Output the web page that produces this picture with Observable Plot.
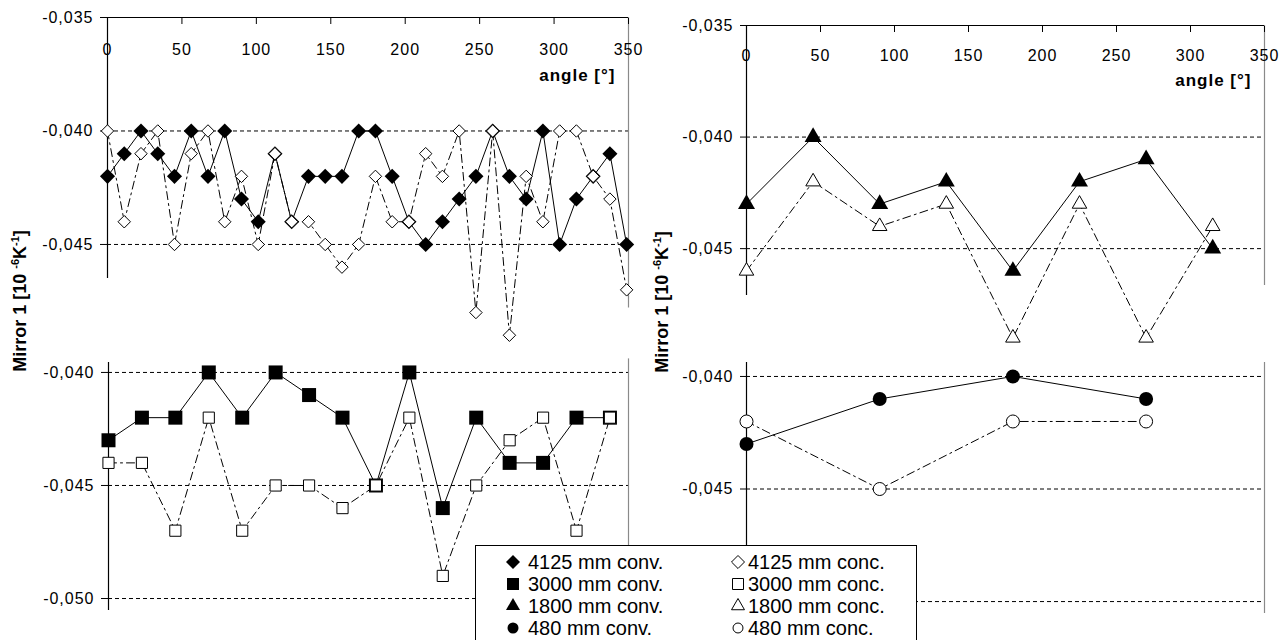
<!DOCTYPE html>
<html><head><meta charset="utf-8">
<script src="https://cdn.jsdelivr.net/npm/d3@7"></script>
<script src="https://cdn.jsdelivr.net/npm/@observablehq/plot@0.6"></script>
<style>
html,body{margin:0;padding:0;background:#fff;}
#root{position:relative;width:1288px;height:640px;overflow:hidden;font-family:"Liberation Sans",Arial,sans-serif;}
.sub{position:absolute;}
.ylab{position:absolute;font-weight:bold;font-size:18px;white-space:nowrap;transform:translate(-50%,-50%) rotate(-90deg);z-index:5;color:#000;}
.ylab sup{font-size:11px;}
#legend{position:absolute;left:475px;top:545px;width:440px;height:110px;border:1px solid #000;background:#fff;z-index:10;}
.li{position:absolute;font-size:20px;line-height:22px;height:22px;white-space:nowrap;color:#000;}
.li svg{position:absolute;top:0;}
</style>
</head><body><div id="root"></div>
<script>
// ---------- data ----------
const angles32 = [0, 11.25, 22.5, 33.75, 45, 56.25, 67.5, 78.75, 90, 101.25, 112.5, 123.75, 135, 146.25, 157.5, 168.75,
                  180, 191.25, 202.5, 213.75, 225, 236.25, 247.5, 258.75, 270, 281.25, 292.5, 303.75, 315, 326.25, 337.5, 348.75];
const angles16 = [0, 22.5, 45, 67.5, 90, 112.5, 135, 157.5, 180, 202.5, 225, 247.5, 270, 292.5, 315, 337.5];
const angles8 = [0, 45, 90, 135, 180, 225, 270, 315];
const angles4 = [0, 90, 180, 270];

const conv4125 = [-0.042,-0.041,-0.040,-0.041,-0.042,-0.040,-0.042,-0.040,-0.043,-0.044,-0.041,-0.044,-0.042,-0.042,-0.042,-0.040,
                  -0.040,-0.042,-0.044,-0.045,-0.044,-0.043,-0.042,-0.040,-0.042,-0.043,-0.040,-0.045,-0.043,-0.042,-0.041,-0.045];
const conc4125 = [-0.040,-0.044,-0.041,-0.040,-0.045,-0.041,-0.040,-0.044,-0.042,-0.045,-0.041,-0.044,-0.044,-0.045,-0.046,-0.045,
                  -0.042,-0.044,-0.044,-0.041,-0.042,-0.040,-0.048,-0.040,-0.049,-0.042,-0.044,-0.040,-0.040,-0.042,-0.043,-0.047];
const conv3000 = [-0.043,-0.042,-0.042,-0.040,-0.042,-0.040,-0.041,-0.042,-0.045,-0.040,-0.046,-0.042,-0.044,-0.044,-0.042,-0.042];
const conc3000 = [-0.044,-0.044,-0.047,-0.042,-0.047,-0.045,-0.045,-0.046,-0.045,-0.042,-0.049,-0.045,-0.043,-0.042,-0.047,-0.042];
const conv1800 = [-0.043,-0.040,-0.043,-0.042,-0.046,-0.042,-0.041,-0.045];
const conc1800 = [-0.046,-0.042,-0.044,-0.043,-0.049,-0.043,-0.049,-0.044];
const conv480 = [-0.043,-0.041,-0.040,-0.041];
const conc480 = [-0.042,-0.045,-0.042,-0.042];

const xTicks = [0, 50, 100, 150, 200, 250, 300, 350];
const yTicksTop = [-0.035, -0.040, -0.045];
const yTicksBottom = [-0.040, -0.045, -0.050];
const gridTop = [-0.040, -0.045];
const gridBottom = [-0.040, -0.045, -0.050];
const xLabel = "angle [°]";
const yLabelHTML = "Mirror 1 [10 <sup>-6</sup>K<sup>-1</sup>]";

const legendItems = [
  {label: "4125 mm conv.", symbol: "diamond2", filled: true},
  {label: "4125 mm conc.", symbol: "diamond2", filled: false},
  {label: "3000 mm conv.", symbol: "square", filled: true},
  {label: "3000 mm conc.", symbol: "square", filled: false},
  {label: "1800 mm conv.", symbol: "triangle", filled: true},
  {label: "1800 mm conc.", symbol: "triangle", filled: false},
  {label: "480 mm conv.", symbol: "circle", filled: true},
  {label: "480 mm conc.", symbol: "circle", filled: false}
];

// ---------- helpers ----------
const rows = (angles, values) => angles.map((a, i) => ({a, v: values[i]}));
const fmtComma = d => d.toFixed(3).replace(".", ",");
const root = document.getElementById("root");

function subplot(cfg) {
  const conv = rows(cfg.angles, cfg.conv);
  const conc = rows(cfg.angles, cfg.conc);
  const marks = [
    Plot.ruleY(cfg.grid, {stroke: "#000", strokeWidth: 1, strokeDasharray: "4,3"}),
    Plot.ruleX([350], {y1: cfg.rightEdge[0], y2: cfg.rightEdge[1], stroke: "#8a8a8a", strokeWidth: 1.2}),
    Plot.ruleX([0], {y1: cfg.leftEdge[0], y2: cfg.leftEdge[1], stroke: "#000", strokeWidth: 1.2}),
    Plot.axisY(cfg.yTicks, {anchor: "left", tickSize: cfg.tickSizeY, tickPadding: 7, tickFormat: fmtComma, label: null, fontSize: 16})
  ];
  if (cfg.top) {
    marks.push(
      Plot.ruleY([cfg.yDomain[1]], {stroke: "#000", strokeWidth: 1.2}),
      Plot.axisX(xTicks, {anchor: "top", tickSize: -6, tickFormat: () => "", label: null}),
      Plot.text(xTicks, {x: d => d, frameAnchor: "top", dy: cfg.xLabelDy, text: d => String(d), fontSize: 16}),
      Plot.text([xLabel], {frameAnchor: "top-right", dx: -13, dy: cfg.titleDy, textAnchor: "end", fontWeight: "bold", fontSize: 17})
    );
  }
  marks.push(
    Plot.line(conv, {x: "a", y: "v", stroke: "#000", strokeWidth: 1}),
    Plot.dot(conv, {x: "a", y: "v", symbol: cfg.symbol, fill: "#000", stroke: "none", r: cfg.rConv}),
    Plot.line(conc, {x: "a", y: "v", stroke: "#000", strokeWidth: 1, strokeDasharray: "8,4,2,4"}),
    Plot.dot(conc, {x: "a", y: "v", symbol: cfg.symbol, fill: "#fff", stroke: "#000", strokeWidth: 1, r: cfg.rConc})
  );
  const svg = Plot.plot({
    width: cfg.width, height: cfg.height,
    marginLeft: cfg.ml, marginRight: cfg.mr, marginTop: cfg.mt, marginBottom: cfg.mb,
    style: {overflow: "visible", background: "transparent", fontFamily: "'Liberation Sans', Arial, sans-serif",
            fontSize: "16px", letterSpacing: "1px", color: "#000"},
    x: cfg.top ? {domain: [0, 350]} : {domain: [0, 350], axis: null},
    y: {domain: [cfg.yDomain[0], cfg.yDomain[1]]},
    marks
  });
  svg.classList.add("sub");
  svg.style.left = cfg.left + "px";
  svg.style.top = cfg.topPx + "px";
  root.appendChild(svg);
}

// left upper: 4125 mm
subplot({left: 0, topPx: 0, width: 660, height: 300, ml: 107, mr: 32, mt: 17, mb: 22,
  yDomain: [-0.0465, -0.035], leftEdge: [-0.0465, -0.035], rightEdge: [-0.0478, -0.035],
  yTicks: yTicksTop, grid: gridTop, top: true, xLabelDy: 26, titleDy: 51, tickSizeY: 7,
  angles: angles32, conv: conv4125, conc: conc4125, symbol: "diamond2", rConv: 6.8, rConc: 5.6});
// left lower: 3000 mm
subplot({left: 0, topPx: 330, width: 660, height: 300, ml: 108, mr: 32, mt: 32, mb: 20,
  yDomain: [-0.05053, -0.03956], leftEdge: [-0.05053, -0.03956], rightEdge: [-0.05053, -0.0394],
  yTicks: yTicksBottom, grid: gridBottom, top: false, tickSizeY: 7,
  angles: angles16, conv: conv3000, conc: conc3000, symbol: "square", rConv: 7.9, rConc: 6.3});
// right upper: 1800 mm
subplot({left: 640, topPx: 0, width: 648, height: 320, ml: 106, mr: 24, mt: 25, mb: 25,
  yDomain: [-0.0471, -0.035], leftEdge: [-0.0471, -0.035], rightEdge: [-0.04665, -0.035],
  yTicks: yTicksTop, grid: gridTop, top: true, xLabelDy: 24, titleDy: 48, tickSizeY: 6,
  angles: angles8, conv: conv1800, conc: conc1800, symbol: "triangle", rConv: 6.3, rConc: 5.4});
// right lower: 480 mm
subplot({left: 640, topPx: 330, width: 648, height: 300, ml: 106, mr: 24, mt: 32, mb: 17,
  yDomain: [-0.05053, -0.03938], leftEdge: [-0.05053, -0.03938], rightEdge: [-0.05053, -0.03938],
  yTicks: yTicksBottom, grid: gridBottom, top: false, tickSizeY: 6,
  angles: angles4, conv: conv480, conc: conc480, symbol: "circle", rConv: 7, rConc: 6.5});

// y labels
[[20, 301], [662, 302]].forEach(([x, y]) => {
  const d = document.createElement("div");
  d.className = "ylab";
  d.style.left = x + "px";
  d.style.top = y + "px";
  d.innerHTML = yLabelHTML;
  root.appendChild(d);
});

// legend
const legend = document.createElement("div");
legend.id = "legend";
root.appendChild(legend);
const symbolTypes = {diamond2: d3.symbolDiamond2, square: d3.symbolSquare, triangle: d3.symbolTriangle, circle: d3.symbolCircle};
const symbolSizes = {diamond2: [125, 108], square: [144, 121], triangle: [85, 73], circle: [95, 78]};
legendItems.forEach((it, i) => {
  const col = i % 2, row = Math.floor(i / 2);
  const item = document.createElement("div");
  item.className = "li";
  item.style.left = (col === 0 ? 52 : 272) + "px";
  item.style.top = (5 + row * 22) + "px";
  item.textContent = it.label;
  const s = d3.create("svg").attr("width", 20).attr("height", 22)
    .style("left", (col === 0 ? "-25px" : "-20px")).style("overflow", "visible");
  s.append("path")
    .attr("transform", "translate(10,11)")
    .attr("d", d3.symbol(symbolTypes[it.symbol], symbolSizes[it.symbol][it.filled ? 0 : 1])())
    .attr("fill", it.filled ? "#000" : "#fff")
    .attr("stroke", it.filled ? "none" : "#000");
  item.appendChild(s.node());
  legend.appendChild(item);
});
</script>
</body></html>
